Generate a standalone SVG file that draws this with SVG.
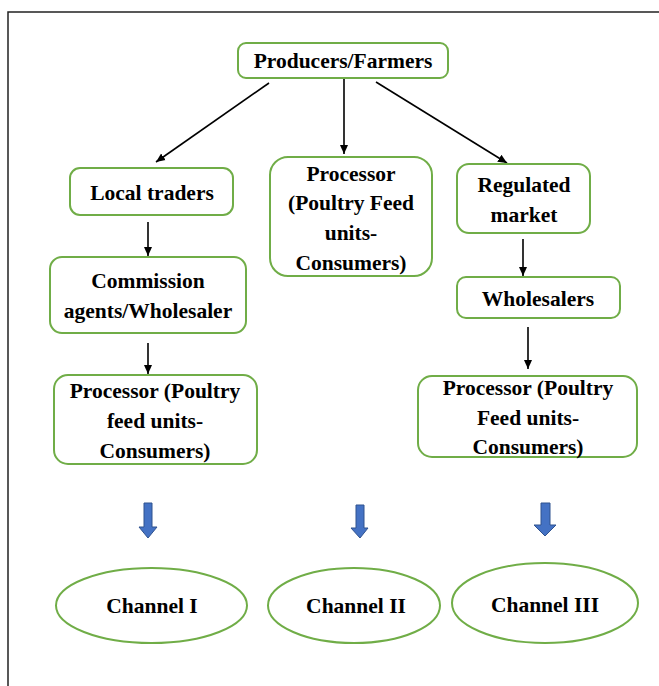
<svg xmlns="http://www.w3.org/2000/svg" width="659" height="686" viewBox="0 0 659 686">
<defs>
<style>
.box{fill:#fff;stroke:#70AD47;stroke-width:2}
.t{font-family:"Liberation Serif","Times New Roman",serif;font-weight:bold;font-size:21.5px;fill:#000;text-anchor:middle}
.c{stroke:#000;stroke-width:1.6;fill:none;marker-end:url(#ah)}
.blue{fill:#4472C4;stroke:#2F528F;stroke-width:1}
</style>
<marker id="ah" markerWidth="10" markerHeight="10" refX="9" refY="5" orient="auto" markerUnits="userSpaceOnUse">
<path d="M0,1 L9,5 L0,9 Z" fill="#000"/>
</marker>
</defs>
<rect width="659" height="686" fill="#fff"/>
<path d="M8,686 V12 H659" fill="none" stroke="#222" stroke-width="1.5"/>

<g id="connectors">
<line class="c" x1="269" y1="83" x2="156" y2="162"/>
<line class="c" x1="344" y1="78" x2="344" y2="154"/>
<line class="c" x1="376" y1="82" x2="507" y2="163"/>
<line class="c" x1="148" y1="222" x2="148" y2="256"/>
<line class="c" x1="148" y1="343" x2="148" y2="374"/>
<line class="c" x1="523" y1="239" x2="523" y2="276"/>
<line class="c" x1="528" y1="327" x2="528" y2="369"/>
</g>

<g id="producers">
<rect class="box" x="238" y="43" width="210" height="35" rx="8"/>
<text class="t" x="343" y="68">Producers/Farmers</text>
</g>
<g id="local-traders">
<rect class="box" x="70" y="168" width="163" height="47" rx="10"/>
<text class="t" x="152" y="200">Local traders</text>
</g>
<g id="commission">
<rect class="box" x="50" y="257" width="196" height="76" rx="12"/>
<text class="t" x="148" y="288">Commission</text>
<text class="t" x="148" y="318">agents/Wholesaler</text>
</g>
<g id="processor-left">
<rect class="box" x="54" y="375" width="203" height="89" rx="14"/>
<text class="t" x="155" y="398">Processor (Poultry</text>
<text class="t" x="155" y="428">feed units-</text>
<text class="t" x="155" y="458">Consumers)</text>
</g>
<g id="processor-middle">
<rect class="box" x="270" y="157" width="162" height="119" rx="18"/>
<text class="t" x="351" y="181">Processor</text>
<text class="t" x="351" y="210">(Poultry Feed</text>
<text class="t" x="351" y="240">units-</text>
<text class="t" x="351" y="270">Consumers)</text>
</g>
<g id="regulated">
<rect class="box" x="457" y="164" width="133" height="69" rx="12"/>
<text class="t" x="524" y="192">Regulated</text>
<text class="t" x="524" y="222">market</text>
</g>
<g id="wholesalers">
<rect class="box" x="457" y="277" width="163" height="41" rx="9"/>
<text class="t" x="538" y="306">Wholesalers</text>
</g>
<g id="processor-right">
<rect class="box" x="418" y="376" width="219" height="81" rx="14"/>
<text class="t" x="528" y="395">Processor (Poultry</text>
<text class="t" x="528" y="425">Feed units-</text>
<text class="t" x="528" y="454">Consumers)</text>
</g>

<g id="blue-arrows">
<path class="blue" d="M144,503 H152 V527 H157 L148,538 L139,527 H144 Z"/>
<path class="blue" d="M356,505 H364 V528 H368 L360,538 L351,528 H356 Z"/>
<path class="blue" d="M541,503 H550 V525 H556 L545,536 L534,525 H541 Z"/>
</g>

<g id="channel-1">
<ellipse class="box" cx="151.5" cy="605.5" rx="95.5" ry="37.5"/>
<text class="t" x="152" y="613">Channel I</text>
</g>
<g id="channel-2">
<ellipse class="box" cx="354" cy="605.5" rx="86" ry="37.5"/>
<text class="t" x="356" y="613">Channel II</text>
</g>
<g id="channel-3">
<ellipse class="box" cx="545" cy="603" rx="93" ry="40"/>
<text class="t" x="545" y="612">Channel III</text>
</g>
</svg>
